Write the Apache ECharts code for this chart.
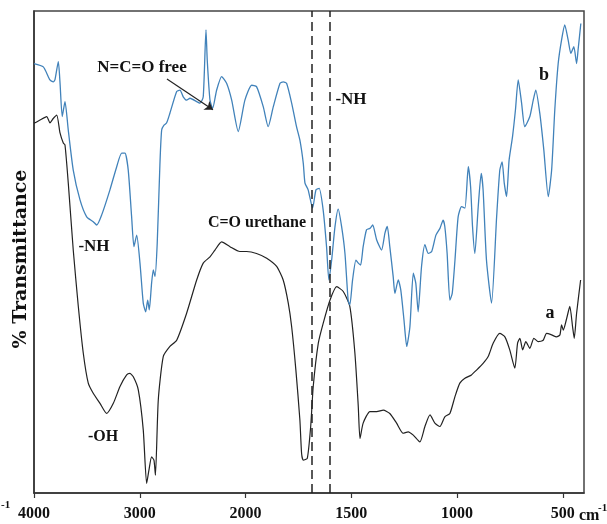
<!DOCTYPE html>
<html>
<head>
<meta charset="utf-8">
<script src="https://cdn.jsdelivr.net/npm/echarts@6/dist/echarts.min.js"></script>
</head>
<body style="margin:0">
<div id="container" style="width:607px;height:524px"></div>
<script>
// FTIR spectra, wavenumber (cm-1) vs % transmittance (arbitrary 0-100 scale)
var tickWave = [4000, 3000, 2000, 1500, 1000, 500];
var dashWave = [1685, 1600];

// curve b (blue)
var waveB = [4000,3912,3849,3818,3802,3770,3754,3733,3707,3676,
  3629,3565,3502,3440,3407,3360,3282,3218,3171,3140,
  3109,3077,3055,3029,2998,2967,2944,2925,2910,2888,
  2872,2856,2835,2809,2793,2771,2746,2715,2651,2620,
  2589,2557,2525,2431,2400,2374,2362,2336,2311,2273,
  2226,2179,2131,2069,2006,1971,1948,1916,1893,1869,
  1837,1822,1806,1782,1759,1743,1727,1719,1704,1683,
  1667,1652,1633,1617,1606,1593,1577,1562,1546,1530,
  1515,1507,1494,1478,1467,1456,1444,1428,1412,1399,
  1380,1357,1341,1330,1318,1302,1294,1278,1266,1251,
  1238,1223,1207,1195,1184,1168,1152,1136,1120,1100,
  1081,1066,1058,1047,1034,1023,1010,995,979,963,
  947,936,927,916,900,886,877,861,837,813,
  798,787,777,766,754,738,724,711,695,680,
  656,640,628,609,590,569,553,538,522,506,
  491,475,462,448,435,428,415];
var transB = [89.1,88.4,85.7,85.3,85.7,89.5,85.1,78.1,81.2,75.3,
  67.0,60.8,57.3,56.3,55.6,57.7,62.9,67.7,70.5,70.5,
  67.0,57.3,51.1,53.5,47.7,39.4,37.6,40.0,38.0,43.6,
  46.3,44.9,51.8,68.5,75.3,76.3,76.8,78.8,83.3,83.6,
  82.2,81.5,81.9,80.9,82.2,96.1,89.8,81.5,79.8,83.6,
  86.4,85.0,81.5,75.0,81.5,84.6,84.3,80.1,76.0,80.1,
  85.0,85.3,85.0,80.9,76.0,73.2,68.4,64.3,62.9,59.1,
  62.9,63.2,58.7,51.1,44.2,48.3,55.3,58.9,55.3,49.7,
  40.0,39.0,44.2,48.3,47.7,47.3,51.1,54.6,54.9,55.6,
  52.5,50.4,53.9,55.3,51.1,44.9,41.4,44.2,42.1,35.9,
  30.4,34.5,45.6,43.5,37.6,47.0,51.5,49.7,50.1,53.5,
  54.9,56.6,55.3,49.7,40.0,41.4,48.3,57.3,59.4,59.1,
  67.7,63.5,55.3,49.7,59.4,66.3,62.9,48.3,39.4,57.3,
  67.0,68.7,64.3,61.5,69.1,73.9,79.5,85.7,80.9,76.0,
  78.1,81.5,83.6,78.8,71.2,61.5,67.0,79.5,89.1,94.0,
  97.1,94.0,91.2,92.6,89.1,91.9,97.4];

// curve a (black)
var waveA = [4000,3943,3880,3849,3818,3785,3754,3723,3707,3676,
  3629,3581,3534,3487,3440,3376,3313,3250,3187,3124,
  3093,3061,3014,2967,2935,2913,2888,2866,2852,2825,
  2778,2715,2651,2557,2462,2400,2336,2289,2226,2147,
  2053,1995,1948,1900,1853,1822,1798,1782,1762,1743,
  1735,1727,1708,1692,1680,1656,1633,1601,1569,1538,
  1507,1483,1467,1459,1444,1412,1380,1349,1318,1286,
  1255,1231,1207,1176,1152,1128,1105,1081,1058,1034,
  1010,987,963,932,908,877,853,829,798,774,
  751,727,714,703,690,675,656,637,616,593,
  577,553,530,514,506,498,482,467,454,446,
  435,416];
var transA = [76.7,77.4,78.1,76.8,77.7,78.4,74.7,72.6,72.2,64.3,
  50.4,38.7,29.0,22.8,20.7,18.6,16.5,18.6,22.1,24.5,
  24.8,24.1,21.4,13.1,2.0,4.8,7.5,6.8,3.7,19.3,
  28.3,30.4,31.7,37.3,44.2,47.7,49.0,50.4,52.1,51.1,
  50.1,50.1,49.7,48.7,47.0,44.2,39.4,34.5,25.5,15.1,
  8.2,6.8,7.2,13.8,22.1,31.1,35.2,40.0,42.8,41.8,
  38.7,29.0,17.9,11.3,14.5,16.9,16.9,17.2,16.5,14.5,
  12.4,12.7,12.0,10.6,13.8,16.2,14.5,13.8,15.8,16.5,
  20.0,22.8,23.8,24.5,25.5,26.9,28.3,31.1,33.1,32.4,
  29.7,25.9,31.1,32.1,29.7,31.4,30.0,32.1,31.4,31.7,
  33.1,32.8,32.4,32.8,34.9,33.8,36.2,38.7,34.5,32.1,
  37.3,44.2];

// the spectrum axis is expanded 2x below 2000 cm-1
function toAxis(w) { return w >= 2000 ? (4000 - w) / 1000 : 2 + (2000 - w) / 500; }
function fromAxis(u) { return u <= 2 ? 4000 - u * 1000 : 2000 - (u - 2) * 500; }

function pairs(ws, ts) {
  return ws.map(function (w, i) { return [toAxis(w), ts[i]]; });
}

var serif = '"Liberation Serif", "Times New Roman", serif';
function label(txt, x, y, size, align) {
  return {
    type: 'text', x: x, y: y, silent: true,
    style: { text: txt, font: 'bold ' + size + 'px ' + serif, fill: '#111',
             align: align || 'center', verticalAlign: 'middle' }
  };
}

var myChart = echarts.init(document.getElementById('container'));
var option = {
  animation: false,
  grid: { left: 34, right: 23, top: 11, bottom: 31, show: true, borderColor: '#444', borderWidth: 1.5 },
  xAxis: {
    type: 'value', min: 0, max: toAxis(400), interval: 1,
    axisLine: { lineStyle: { color: '#333', width: 1.5 } },
    axisTick: { length: 5, lineStyle: { color: '#333', width: 1.2 } },
    splitLine: { show: false },
    axisLabel: {
      showMaxLabel: false, margin: 13,
      fontFamily: serif, fontWeight: 'bold', fontSize: 16, color: '#111',
      formatter: function (u) {
        if (Math.abs(u - Math.round(u)) > 1e-6) return '';
        var w = fromAxis(u);
        return tickWave.indexOf(w) >= 0 ? String(w) : '';
      }
    }
  },
  yAxis: {
    type: 'value', min: 0, max: 100,
    axisLine: { show: true, lineStyle: { color: '#333', width: 1.5 } },
    axisTick: { show: false }, axisLabel: { show: false }, splitLine: { show: false }
  },
  series: [
    {
      name: 'a', type: 'line', data: pairs(waveA, transA),
      showSymbol: false, smooth: 0.2, lineStyle: { color: '#222', width: 1.2 },
      markLine: {
        silent: true, symbol: 'none', label: { show: false },
        lineStyle: { type: [9, 5], color: '#222', width: 1.5 },
        data: dashWave.map(function (w) { return { xAxis: toAxis(w) }; })
      }
    },
    {
      name: 'b', type: 'line', data: pairs(waveB, transB),
      showSymbol: false, smooth: 0.2, lineStyle: { color: '#4182ba', width: 1.3 },
      markLine: {
        silent: true, symbol: ['none', 'arrow'], symbolSize: 8, label: { show: false },
        lineStyle: { type: 'solid', color: '#222', width: 1.2 },
        data: [[{ coord: [toAxis(2743), 85.9] }, { coord: [toAxis(2308), 79.5] }]]
      }
    }
  ],
  graphic: [
    label('N=C=O free', 142, 68, 17),
    label('-NH', 351, 100, 17),
    label('b', 544, 75, 18),
    label('-NH', 94, 247, 17),
    label('C=O urethane', 257, 223, 16),
    label('-OH', 103, 437, 16),
    label('a', 550, 313, 18),
    label('cm', 579, 516, 16, 'left'),
    label('-1', 598, 508, 11, 'left'),
    label('-1', 1, 505, 11, 'left'),
    {
      type: 'text', x: 21, y: 259, rotation: Math.PI / 2, silent: true,
      style: { text: '% Transmittance', font: 'bold 19px "DejaVu Serif", serif', fill: '#111',
               align: 'center', verticalAlign: 'middle' }
    }
  ]
};
myChart.setOption(option);
</script>
</body>
</html>
